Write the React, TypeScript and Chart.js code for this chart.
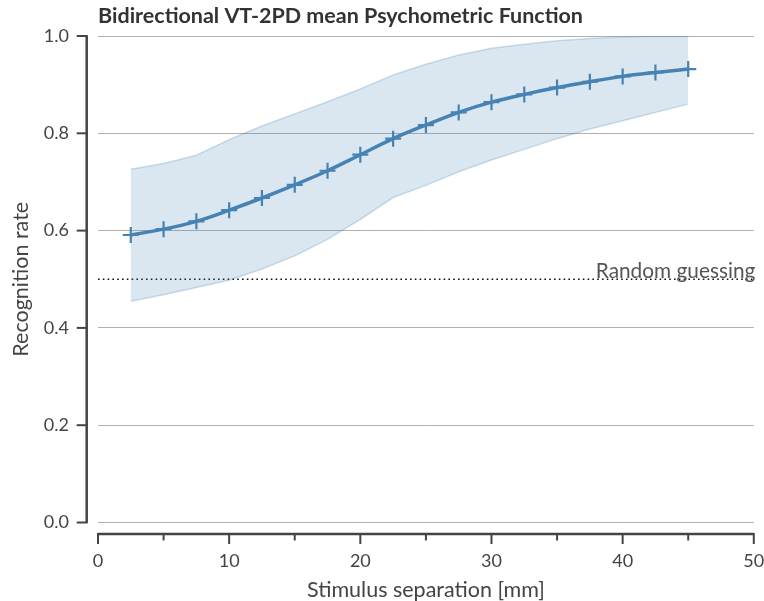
import React, { useEffect, useRef } from "react";
import { Chart, registerables } from "chart.js";

Chart.register(...registerables);

const separationMm = [2.5, 5, 7.5, 10, 12.5, 15, 17.5, 20, 22.5, 25, 27.5, 30, 32.5, 35, 37.5, 40, 42.5, 45];
const meanRate = [0.591, 0.603, 0.619, 0.642, 0.667, 0.694, 0.723, 0.756, 0.789, 0.817, 0.843, 0.864, 0.880, 0.894, 0.906, 0.917, 0.925, 0.932];
const upperRate = [0.726, 0.738, 0.755, 0.787, 0.815, 0.840, 0.865, 0.891, 0.920, 0.942, 0.961, 0.975, 0.983, 0.990, 0.995, 0.998, 1.0, 1.0];
const lowerRate = [0.455, 0.468, 0.483, 0.498, 0.521, 0.548, 0.582, 0.623, 0.668, 0.693, 0.721, 0.745, 0.767, 0.789, 0.809, 0.826, 0.843, 0.860];
const chanceLevel = 0.5;
const xRange = [0, 50];
const yTicks = [0, 0.2, 0.4, 0.6, 0.8, 1.0];
const xMajorTicks = [0, 10, 20, 30, 40, 50];
const xMinorTicks = [5, 15, 25, 35, 45];

const TITLE = "Bidirectional VT-2PD mean Psychometric Function";
const CHANCE_LABEL = "Random guessing";
const FONT = "Lato, 'DejaVu Sans', sans-serif";

const spinePlugin = {
  id: "spines",
  afterDraw(chart: any) {
    const { ctx, chartArea, scales } = chart;
    const xs = scales.x;
    const ys = scales.y;
    ctx.save();
    ctx.strokeStyle = "#444444";
    ctx.lineCap = "butt";
    // y spine
    const sx = chartArea.left - 11.3;
    ctx.lineWidth = 2.5;
    ctx.beginPath();
    ctx.moveTo(sx, ys.getPixelForValue(1));
    ctx.lineTo(sx, ys.getPixelForValue(0));
    ctx.stroke();
    ctx.lineWidth = 2;
    for (const v of yTicks) {
      const py = ys.getPixelForValue(v);
      ctx.beginPath();
      ctx.moveTo(sx - 10, py);
      ctx.lineTo(sx + 1, py);
      ctx.stroke();
    }
    // x spine
    const sy = chartArea.bottom + 11.5;
    ctx.lineWidth = 2.5;
    ctx.beginPath();
    ctx.moveTo(xs.getPixelForValue(xRange[0]), sy);
    ctx.lineTo(xs.getPixelForValue(xRange[1]), sy);
    ctx.stroke();
    ctx.lineWidth = 2;
    for (const v of xMajorTicks) {
      const px = xs.getPixelForValue(v);
      ctx.beginPath();
      ctx.moveTo(px, sy - 1);
      ctx.lineTo(px, sy + 10);
      ctx.stroke();
    }
    for (const v of xMinorTicks) {
      const px = xs.getPixelForValue(v);
      ctx.beginPath();
      ctx.moveTo(px, sy - 1);
      ctx.lineTo(px, sy + 6.5);
      ctx.stroke();
    }
    // title
    ctx.fillStyle = "#333333";
    ctx.font = `bold 21.5px ${FONT}`;
    ctx.textAlign = "left";
    ctx.textBaseline = "alphabetic";
    ctx.fillText(TITLE, chartArea.left, 23);
    // chance label
    ctx.fillStyle = "#555555";
    ctx.font = `20.8px ${FONT}`;
    ctx.textAlign = "right";
    ctx.fillText(CHANCE_LABEL, xs.getPixelForValue(xRange[1]) + 1.5, ys.getPixelForValue(chanceLevel) - 1.5);
    ctx.restore();
  },
};

export default function App() {
  const canvasRef = useRef<HTMLCanvasElement | null>(null);

  useEffect(() => {
    if (!canvasRef.current) return;
    const pts = (vals: number[]) => separationMm.map((x, i) => ({ x, y: vals[i] }));
    const chart = new Chart(canvasRef.current, {
      type: "line",
      data: {
        datasets: [
          {
            label: "chance",
            data: [
              { x: xRange[0], y: chanceLevel },
              { x: xRange[1], y: chanceLevel },
            ],
            borderColor: "#111111",
            borderWidth: 1.6,
            borderDash: [1.6, 3.2],
            pointRadius: 0,
            fill: false,
            order: 3,
          },
          {
            label: "upper",
            data: pts(upperRate),
            borderColor: "rgba(70,130,180,0.25)",
            borderWidth: 1.5,
            pointRadius: 0,
            fill: false,
            tension: 0,
            order: 2,
          },
          {
            label: "lower",
            data: pts(lowerRate),
            borderColor: "rgba(70,130,180,0.25)",
            backgroundColor: "rgba(70,130,180,0.2)",
            borderWidth: 1.5,
            pointRadius: 0,
            fill: "-1",
            tension: 0,
            order: 2,
          },
          {
            label: "mean",
            data: pts(meanRate),
            borderColor: "#4682b4",
            borderWidth: 3.5,
            pointStyle: "cross",
            pointRadius: 8,
            pointBorderWidth: 2.2,
            pointBorderColor: "#4682b4",
            cubicInterpolationMode: "monotone",
            fill: false,
            order: 1,
          },
        ],
      },
      options: {
        animation: false,
        responsive: false,
        maintainAspectRatio: false,
        layout: { padding: { top: 36, right: 9, left: 0, bottom: 0 } },
        plugins: {
          legend: { display: false },
          title: { display: false },
          tooltip: { enabled: false },
        },
        scales: {
          x: {
            type: "linear",
            min: xRange[0],
            max: xRange[1],
            afterFit: (s: any) => {
              s.height = 78.5;
              s.paddingLeft = 0;
              s.paddingRight = 0;
              s.paddingTop = 0;
              s.paddingBottom = 0;
            },
            grid: { display: false, drawTicks: false },
            border: { display: false },
            ticks: {
              stepSize: 10,
              autoSkip: false,
              padding: 28,
              color: "#444444",
              font: { family: FONT, size: 18 },
              maxRotation: 0,
            },
            title: {
              display: true,
              text: "Stimulus separation [mm]",
              color: "#444444",
              font: { family: FONT, size: 21.5, lineHeight: 1.0 },
              padding: { top: 0, bottom: 0 },
            },
          },
          y: {
            type: "linear",
            min: 0,
            max: 1,
            afterFit: (s: any) => {
              s.width = 98;
              s.paddingLeft = 0;
              s.paddingRight = 0;
              s.paddingTop = 0;
              s.paddingBottom = 0;
            },
            grid: { color: "#b0b0b0", lineWidth: 1, drawTicks: false },
            border: { display: false },
            ticks: {
              stepSize: 0.2,
              padding: 29,
              color: "#444444",
              font: { family: FONT, size: 18 },
              callback: (v: any) => Number(v).toFixed(1),
            },
            title: {
              display: true,
              text: "Recognition rate",
              color: "#444444",
              font: { family: FONT, size: 21.5, lineHeight: 1.0 },
              padding: { top: 10.5, bottom: 0 },
            },
          },
        },
      },
      plugins: [spinePlugin],
    });
    return () => chart.destroy();
  }, []);

  return (
    <div style={{ position: "fixed", left: 0, top: 0, width: 764, height: 601, background: "#ffffff" }}>
      <canvas ref={canvasRef} width={764} height={601} style={{ width: 764, height: 601 }} />
    </div>
  );
}
